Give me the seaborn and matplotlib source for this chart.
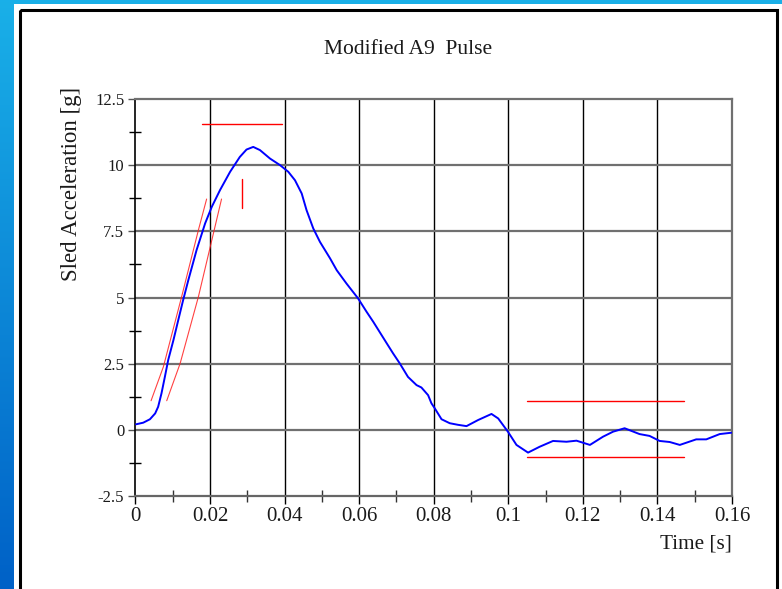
import numpy as np
import pandas as pd
import matplotlib
matplotlib.use("Agg")
import matplotlib.pyplot as plt
from matplotlib.patches import Rectangle
import seaborn as sns

# ---------------- data ----------------
time_s = [0.0002, 0.0021, 0.0039, 0.0053, 0.0061, 0.0070, 0.0079, 0.0088, 0.0102,
          0.0115, 0.0128, 0.0142, 0.0164, 0.0187, 0.0205, 0.0227, 0.0254, 0.0280,
          0.0298, 0.0316, 0.0334, 0.0361, 0.0388, 0.0410, 0.0428, 0.0446, 0.0459,
          0.0477, 0.0495, 0.0522, 0.0540, 0.0566, 0.0597, 0.0620, 0.0638, 0.0674,
          0.0691, 0.0709, 0.0731, 0.0754, 0.0767, 0.0785, 0.0794, 0.0803, 0.0821,
          0.0843, 0.0865, 0.0888, 0.0919, 0.0955, 0.0973, 0.0999, 0.1022, 0.1053,
          0.1084, 0.1120, 0.1156, 0.1183, 0.1219, 0.1254, 0.1281, 0.1312, 0.1352,
          0.1379, 0.1406, 0.1433, 0.1460, 0.1504, 0.1531, 0.1567, 0.1598]
accel_g = [0.21, 0.27, 0.40, 0.62, 0.87, 1.38, 2.00, 2.64, 3.39,
           4.15, 4.90, 5.66, 6.79, 7.80, 8.43, 9.06, 9.75, 10.31,
           10.59, 10.69, 10.57, 10.25, 10.00, 9.75, 9.43, 8.93, 8.30,
           7.61, 7.10, 6.48, 6.03, 5.53, 4.97, 4.46, 4.08, 3.27,
           2.89, 2.51, 2.00, 1.69, 1.60, 1.31, 1.00, 0.81, 0.40,
           0.25, 0.19, 0.14, 0.37, 0.60, 0.43, -0.07, -0.57, -0.86,
           -0.64, -0.42, -0.45, -0.41, -0.57, -0.26, -0.07, 0.06, -0.16,
           -0.23, -0.42, -0.46, -0.57, -0.36, -0.36, -0.16, -0.11]

# corridor markers (red)
rise_left_t = [0.0042, 0.0075, 0.0124, 0.0169, 0.0191]
rise_left_g = [1.10, 2.38, 5.03, 7.55, 8.72]
rise_right_t = [0.0084, 0.0120, 0.0169, 0.0205, 0.0231]
rise_right_g = [1.10, 2.51, 5.03, 7.17, 8.72]
peak_band_t = [0.0178, 0.0392]
peak_band_g = [11.55, 11.55]
peak_time_t = [0.0285, 0.0285]
peak_time_g = [8.40, 9.46]
tail_upper_t = [0.1050, 0.1470]
tail_upper_g = [1.08, 1.08]
tail_lower_t = [0.1050, 0.1470]
tail_lower_g = [-1.04, -1.04]

xticks = [0.0, 0.02, 0.04, 0.06, 0.08, 0.10, 0.12, 0.14, 0.16]
xtick_labels = ["0", "0.02", "0.04", "0.06", "0.08", "0.1", "0.12", "0.14", "0.16"]
xminor = [0.01, 0.03, 0.05, 0.07, 0.09, 0.11, 0.13, 0.15]
yticks = [-2.5, 0, 2.5, 5, 7.5, 10, 12.5]
ytick_labels = ["-2.5", "0", "2.5", "5", "7.5", "10", "12.5"]
yminor = [-1.25, 1.25, 3.75, 6.25, 8.75, 11.25]

title = "Modified A9  Pulse"
xlabel = "Time [s]"
ylabel = "Sled Acceleration [g]"

# ---------------- style ----------------
sns.set_style("white")
plt.rcParams["font.family"] = ["Liberation Serif", "DejaVu Serif"]
TXT = "#1a1a1a"

W, H = 782, 589
fig = plt.figure(figsize=(W / 100, H / 100), dpi=100)

# slide background (blue gradient strip, white page, black frame)
bg = fig.add_axes([0, 0, 1, 1])
bg.set_zorder(-5)
bg.axis("off")
yy = np.linspace(0, 1, 256)[:, None]
c_top = np.array([0.10, 0.69, 0.91])
c_bot = np.array([0.00, 0.38, 0.78])
grad = c_top[None, None, :] * (1 - yy[..., None]) + c_bot[None, None, :] * yy[..., None]
grad = np.repeat(grad, 4, axis=1)
bg.imshow(grad, extent=[0, W, H, 0], aspect="auto", zorder=0)
bg.add_patch(Rectangle((14, 4), W - 14, H - 4, facecolor="white", edgecolor="none", zorder=1))
bg.add_patch(Rectangle((20, 10), 756.5, H + 10, facecolor="none", edgecolor="black",
                       linewidth=2.2, zorder=2))
bg.set_xlim(0, W)
bg.set_ylim(H, 0)

# main axes
x0, x1, ytop, ybot = 135.4, 732.0, 99.0, 496.0
ax = fig.add_axes([x0 / W, 1 - ybot / H, (x1 - x0) / W, (ybot - ytop) / H])
ax.set_facecolor("white")

df = pd.DataFrame({"t": time_s, "a": accel_g})
sns.lineplot(data=df, x="t", y="a", ax=ax, color="#0000ff", linewidth=1.4,
             estimator=None, sort=False, zorder=5)

ax.plot(rise_left_t, rise_left_g, color="#ff2020", lw=0.8, alpha=0.85, zorder=4)
ax.plot(rise_right_t, rise_right_g, color="#ff2020", lw=0.8, alpha=0.85, zorder=4)
for tt, gg in [(peak_band_t, peak_band_g), (peak_time_t, peak_time_g),
               (tail_upper_t, tail_upper_g), (tail_lower_t, tail_lower_g)]:
    ax.plot(tt, gg, color="#ff0000", lw=1.0, zorder=4)

ax.set_xlim(0, 0.16)
ax.set_ylim(-2.5, 12.5)
ax.set_xticks(xticks)
ax.set_xticklabels(xtick_labels)
ax.set_xticks(xminor, minor=True)
ax.set_yticks(yticks)
ax.set_yticklabels(ytick_labels)
ax.set_yticks(yminor, minor=True)

ax.grid(False)
for xv in xticks[1:-1]:
    ax.axvline(xv, color="black", lw=1.0, zorder=1)
for yv in yticks[1:-1]:
    ax.axhline(yv, color="#707070", lw=1.6, zorder=1)

ax.tick_params(which="both", bottom=True, left=True, top=False, right=False)
ax.tick_params(axis="x", which="major", direction="out", length=6, width=1.0,
               color="black", labelsize=15, labelcolor=TXT, pad=2)
ax.tick_params(axis="x", which="minor", direction="inout", length=9, width=1.0,
               color="#333333")
ax.tick_params(axis="y", which="major", direction="out", length=5, width=1.0,
               color="#555555", labelsize=12, labelcolor=TXT, pad=3)
ax.tick_params(axis="y", which="minor", direction="inout", length=8, width=1.0,
               color="black")

for side, col, lw in [("left", "black", 1.2), ("bottom", "#666666", 1.6),
                      ("top", "#707070", 1.6), ("right", "#707070", 1.6)]:
    ax.spines[side].set_visible(True)
    ax.spines[side].set_color(col)
    ax.spines[side].set_linewidth(lw)

ax.set_xlabel("")
ax.set_ylabel("")

fig.text(408 / W, 1 - 50 / H, title, ha="center", va="center", fontsize=15.5, color=TXT)
fig.text(72 / W, 1 - 183.5 / H, ylabel, ha="center", va="center", rotation=90,
         fontsize=16.5, color=TXT)
fig.text(731.5 / W, 1 - 544 / H, xlabel, ha="right", va="center", fontsize=15.2, color=TXT)

fig.savefig("out.png", dpi=100)
